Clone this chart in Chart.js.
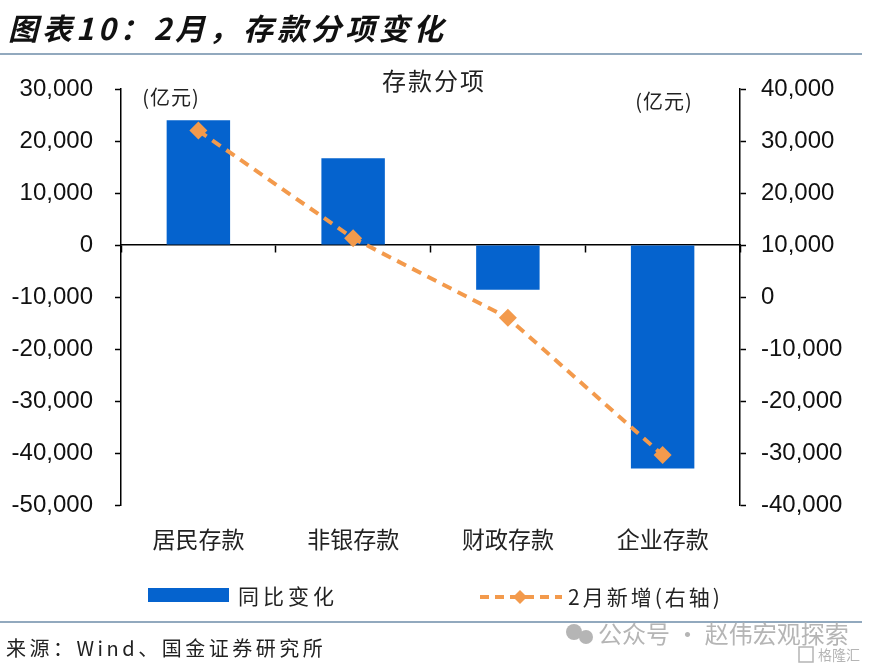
<!DOCTYPE html>
<html>
<head>
<meta charset="utf-8">
<script src="https://cdn.jsdelivr.net/npm/chart.js@4"></script>
<style>
html, body { margin: 0; padding: 0; background: #fff; }
#wrap { width: 870px; height: 671px; position: relative; }
</style>
</head>
<body>
<div id="wrap"><canvas id="depositGraph" width="870" height="671"></canvas></div>
<script>
const categories = ["居民存款", "非银存款", "财政存款", "企业存款"];
const yoyChange = [24000, 16700, -8600, -43000];   // 同比变化 (左轴)
const febNew = [32000, 11300, -4000, -30400];       // 2月新增 (右轴)
const leftRange = [-50000, 30000];
const rightRange = [-40000, 40000];
const tickStep = 10000;

const BLUE = "#0563CE";
const ORANGE = "#F39A4C";
const CJK = '"Noto Sans CJK SC", "Noto Sans", sans-serif';
const NUM = '"Liberation Sans", Arial, sans-serif';

const fmt = v => v.toLocaleString("en-US");

const extras = {
    id: "extras",
    afterDraw(chart) {
        const c = chart.ctx;
        c.save();
        // header
        c.fillStyle = "#111";
        c.font = 'italic bold 30px ' + CJK;
        c.textBaseline = "middle";
        c.textAlign = "left";
        c.letterSpacing = "4px";
        c.fillText("图表10：2月，存款分项变化", 8, 29);
        c.letterSpacing = "0px";
        c.strokeStyle = "#6E8CA8";
        c.lineWidth = 1.5;
        c.beginPath(); c.moveTo(0, 54); c.lineTo(862, 54); c.stroke();
        c.beginPath(); c.moveTo(0, 622); c.lineTo(862, 622); c.stroke();

        // chart title and units
        c.fillStyle = "#222";
        c.textAlign = "center";
        c.letterSpacing = "2px";
        c.font = '24px ' + CJK;
        c.fillText("存款分项", 434, 81);
        c.letterSpacing = "1px";
        c.font = '20px ' + CJK;
        c.fillText("(亿元)", 171, 97);
        c.fillText("(亿元)", 664, 101);

        // legend
        c.fillStyle = BLUE;
        c.fillRect(148, 588, 81, 14);
        c.fillStyle = "#222";
        c.textAlign = "left";
        c.letterSpacing = "4px";
        c.font = '21px ' + CJK;
        c.fillText("同比变化", 238, 596);
        c.strokeStyle = ORANGE;
        c.lineWidth = 4;
        c.setLineDash([9, 6]);
        c.beginPath(); c.moveTo(480, 597); c.lineTo(562, 597); c.stroke();
        c.setLineDash([]);
        c.fillStyle = ORANGE;
        c.beginPath();
        c.moveTo(520, 590); c.lineTo(527, 597); c.lineTo(520, 604); c.lineTo(513, 597);
        c.closePath(); c.fill();
        c.fillStyle = "#222";
        c.letterSpacing = "3px";
        c.font = '21px ' + CJK;
        c.fillText("2月新增(右轴)", 568, 597);

        // source
        c.letterSpacing = "3.5px";
        c.font = '20px ' + CJK;
        c.fillText("来源：Wind、国金证券研究所", 6, 648);

        // watermark
        c.letterSpacing = "0px";
        c.fillStyle = "#B5B5B5";
        c.beginPath(); c.arc(574, 632, 8, 0, Math.PI * 2); c.fill();
        c.beginPath(); c.arc(586, 637, 7, 0, Math.PI * 2); c.fill();
        c.font = '24px ' + CJK;
        c.fillText("公众号 · 赵伟宏观探索", 598, 634);
        c.font = '14px ' + CJK;
        c.fillText("格隆汇", 818, 655);
        c.strokeStyle = "#B5B5B5";
        c.lineWidth = 1.5;
        c.strokeRect(799, 647, 14, 15);
        c.restore();
    }
};

new Chart(document.getElementById("depositGraph").getContext("2d"), {
    data: {
        labels: categories,
        datasets: [
            {
                type: "line",
                label: "2月新增(右轴)",
                data: febNew,
                yAxisID: "y1",
                xAxisID: "x",
                borderColor: ORANGE,
                borderWidth: 4,
                borderDash: [10, 7],
                pointStyle: "rectRot",
                pointRadius: 9,
                pointBackgroundColor: ORANGE,
                pointBorderColor: ORANGE,
                pointBorderWidth: 0,
                tension: 0,
                order: 0
            },
            {
                type: "bar",
                label: "同比变化",
                data: yoyChange,
                yAxisID: "y",
                xAxisID: "x",
                backgroundColor: BLUE,
                categoryPercentage: 1,
                barPercentage: 0.41,
                order: 1
            }
        ]
    },
    options: {
        responsive: false,
        animation: false,
        layout: { padding: { left: 0, right: 0, top: 89, bottom: 96 } },
        plugins: {
            legend: { display: false },
            tooltip: { enabled: false }
        },
        scales: {
            x: {
                type: "category",
                position: "bottom",
                offset: true,
                grid: { display: false },
                border: { display: false },
                ticks: { color: "#222", font: { family: CJK, size: 23 }, padding: 12 },
                afterFit: s => { s.height = 70; }
            },
            x2: {
                type: "category",
                position: { y: 0 },
                offset: true,
                grid: { offset: true, drawOnChartArea: false, drawTicks: true, tickLength: 7, tickColor: "#000", tickWidth: 1.5 },
                border: { display: true, color: "#000", width: 1.5 },
                ticks: { display: false }
            },
            y: {
                type: "linear",
                position: "left",
                min: leftRange[0],
                max: leftRange[1],
                ticks: { stepSize: tickStep, callback: fmt, color: "#111", font: { family: NUM, size: 24 }, padding: 22 },
                grid: { drawOnChartArea: false, tickLength: 6, tickColor: "#000", tickWidth: 1.5 },
                border: { display: true, color: "#000", width: 1.5 },
                afterFit: s => { s.width = 121; }
            },
            y1: {
                type: "linear",
                position: "right",
                min: rightRange[0],
                max: rightRange[1],
                ticks: { stepSize: tickStep, callback: fmt, color: "#111", font: { family: NUM, size: 24 }, padding: 15 },
                grid: { drawOnChartArea: false, tickLength: 6, tickColor: "#000", tickWidth: 1.5 },
                border: { display: true, color: "#000", width: 1.5 },
                afterFit: s => { s.width = 130; }
            }
        }
    },
    plugins: [extras]
});
</script>
</body>
</html>
